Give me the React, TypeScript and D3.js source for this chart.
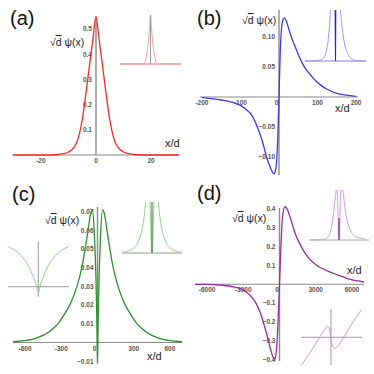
import React from "react";
import * as d3 from "d3";

// (a) bound state, symmetric peak
const aX = [-30, -20, -15, -12, -10, -8, -7, -6, -5, -4, -3, -2, -1, 0, 1, 2, 3, 4, 5, 6, 7, 8, 10, 12, 15, 20, 30];
const aY = [0, 0, 0.001, 0.005, 0.012, 0.03, 0.05, 0.085, 0.14, 0.215, 0.3, 0.385, 0.47, 0.55, 0.47, 0.385, 0.3, 0.215, 0.14, 0.085, 0.05, 0.03, 0.012, 0.005, 0.001, 0, 0];

// (b) odd state
const bX = [-200, -170, -150, -120, -100, -85, -70, -55, -45, -38, -31, -24, -18, -13, -10, -6, -3, 0, 3, 6, 10, 14, 20, 26, 32, 40, 50, 65, 80, 95, 110, 125, 150, 175, 200];
const bY = [-0.001, -0.003, -0.005, -0.009, -0.014, -0.021, -0.031, -0.052, -0.07, -0.086, -0.103, -0.115, -0.124, -0.128, -0.125, -0.105, -0.065, 0, 0.07, 0.11, 0.128, 0.132, 0.125, 0.112, 0.1, 0.087, 0.071, 0.051, 0.038, 0.027, 0.019, 0.013, 0.006, 0.003, 0.001];

// (c) double peak with dip at origin
const cX = [-700, -600, -500, -400, -330, -280, -230, -170, -130, -100, -76, -60, -42, -24, -13, -7, -3, 0, 3, 7, 13, 24, 42, 60, 76, 100, 130, 170, 230, 280, 330, 400, 500, 600, 700];
const cY = [0.0004, 0.001, 0.0025, 0.0058, 0.0098, 0.0145, 0.02, 0.03, 0.04, 0.051, 0.061, 0.068, 0.071, 0.055, 0.035, 0.0175, 0.003, -0.0105, 0.003, 0.0175, 0.035, 0.055, 0.071, 0.068, 0.061, 0.051, 0.04, 0.03, 0.02, 0.0145, 0.0098, 0.0058, 0.0025, 0.001, 0.0004];

// (d) odd state, wide
const dX = [-7000, -6000, -5000, -4000, -3000, -2500, -2000, -1600, -1300, -1100, -900, -700, -550, -400, -250, -120, 0, 120, 250, 460, 700, 1000, 1300, 1800, 2400, 3100, 4000, 4800, 5800, 7000];
const dY = [-0.0005, -0.001, -0.004, -0.012, -0.03, -0.055, -0.095, -0.15, -0.21, -0.255, -0.305, -0.355, -0.385, -0.4, -0.35, -0.2, 0, 0.2, 0.36, 0.412, 0.39, 0.33, 0.27, 0.2, 0.14, 0.1, 0.07, 0.05, 0.027, 0.012];

// (d) zoom of the kink near the origin (arbitrary units)
const dzX = [-0.98, -0.64, -0.37, -0.2, -0.11, -0.06, -0.02, 0.02, 0.11, 0.22, 0.47, 0.74, 1.02];
const dzY = [-0.92, -0.42, 0.02, 0.27, 0.38, 0.3, 0.08, -0.18, -0.37, -0.31, 0.08, 0.52, 0.93];

const aXTicks = [-20, 0, 20];
const aYTicks = [0.1, 0.2, 0.3, 0.4, 0.5];
const bXTicks = [-200, -100, 0, 100, 200];
const bYTicks = [-0.1, -0.05, 0.05, 0.1];
const cXTicks = [-600, -300, 0, 300, 600];
const cYTicks = [-0.01, 0.01, 0.02, 0.03, 0.04, 0.05, 0.06, 0.07];
const dXTicks = [-6000, -3000, 0, 3000, 6000];
const dYTicks = [-0.4, -0.3, -0.2, -0.1, 0.1, 0.2, 0.3, 0.4];

const FONT = "'Liberation Sans', Arial, sans-serif";

type Inset = {
  x0: number; x1: number; base: number; top: number; centerTop: number;
  dom: [number, number]; gain: number;
  curve: string; center: string; baseColor: string;
};

type PanelProps = {
  id: string;
  letter: string;
  letterPos: [number, number];
  xs: number[];
  ys: number[];
  color: string;
  xDomain: [number, number];
  xRange: [number, number];
  yDomain: [number, number];
  yRange: [number, number];
  yAxisTop: number;
  yAxisBottom: number;
  xTicks: number[];
  yTicks: number[];
  zeroShift: number;
  yFmt: (v: number) => string;
  yLabelPos: [number, number];
  xLabelPos: [number, number];
  inset: Inset;
};

function Panel(p: PanelProps) {
  const x = d3.scaleLinear().domain(p.xDomain).range(p.xRange);
  const y = d3.scaleLinear().domain(p.yDomain).range(p.yRange);
  const pts = p.xs.map((v, i) => [v, p.ys[i]] as [number, number]);
  const line = d3.line<[number, number]>().x((d) => x(d[0])).y((d) => y(d[1])).curve(d3.curveMonotoneX);

  // inset: probability density, scaled up and clipped at the top
  const ins = p.inset;
  const ix = d3.scaleLinear().domain(ins.dom).range([ins.x0, ins.x1]);
  const maxSq = d3.max(p.ys, (v) => v * v) as number;
  const iy = d3.scaleLinear().domain([0, maxSq / ins.gain]).range([ins.base, ins.top]);
  const iline = d3.line<[number, number]>().x((d) => ix(d[0])).y((d) => iy(d[1] * d[1])).curve(d3.curveMonotoneX);
  const inPts = pts.filter((d) => d[0] >= ins.dom[0] && d[0] <= ins.dom[1]);

  const x0 = x(0);
  const y0 = y(0);
  return (
    <g>
      <defs>
        <clipPath id={"clip" + p.id}>
          <rect x={ins.x0 - 2} y={ins.top} width={ins.x1 - ins.x0 + 4} height={ins.base - ins.top + 2} />
        </clipPath>
      </defs>
      <text x={p.letterPos[0]} y={p.letterPos[1]} fontSize={20} fontFamily={FONT} fill="#111">
        {p.letter}
      </text>
      {/* inset */}
      <line x1={ins.x0} x2={ins.x1} y1={ins.base} y2={ins.base} stroke={ins.baseColor} strokeWidth={1} />
      <path d={iline(inPts) || ""} fill="none" stroke={ins.curve} strokeWidth={1} clipPath={`url(#clip${p.id})`} />
      <line x1={ix(0)} x2={ix(0)} y1={ins.centerTop} y2={ins.base} stroke={ins.center} strokeWidth={1} />
      {/* axes */}
      <line x1={p.xRange[0]} x2={p.xRange[1]} y1={y0} y2={y0} stroke="#8a8a8a" strokeWidth={1.2} />
      <line x1={x0} x2={x0} y1={p.yAxisTop} y2={p.yAxisBottom} stroke="#8a8a8a" strokeWidth={1.4} />
      {p.xTicks.map((t) => (
        <text key={"x" + t} x={x(t) + (t === 0 ? p.zeroShift : 0)} y={y0 + 8} fontSize={6.5} fontWeight="bold" fontFamily={FONT} fill="#555" textAnchor="middle">
          {t}
        </text>
      ))}
      {p.yTicks.map((t) => (
        <text key={"y" + t} x={x0 - 4} y={y(t) + 2.3} fontSize={6.5} fontWeight="bold" fontFamily={FONT} fill="#555" textAnchor="end">
          {p.yFmt(t)}
        </text>
      ))}
      <path d={line(pts) || ""} fill="none" stroke={p.color} strokeWidth={1.3} />
      <text x={p.yLabelPos[0]} y={p.yLabelPos[1]} fontSize={10.5} fontFamily={FONT} fill="#222">
        √<tspan style={{ textDecoration: "overline" }}>d</tspan> ψ(x)
      </text>
      <text x={p.xLabelPos[0]} y={p.xLabelPos[1]} fontSize={11} fontFamily={FONT} fill="#222">
        x/d
      </text>
    </g>
  );
}

export default function App() {
  // zoom inset of (c): central dip
  const vx = d3.scaleLinear().domain([-42, 42]).range([8.3, 68.3]);
  const vy = d3.scaleLinear().domain([0, 0.071]).range([286.7, 246.7]);
  const vPts = cX.map((v, i) => [v, cY[i]] as [number, number]).filter((d) => d[0] >= -42 && d[0] <= 42);
  const vLine = d3.line<[number, number]>().x((d) => vx(d[0])).y((d) => vy(d[1])).curve(d3.curveMonotoneX);

  // zoom inset of (d): kink
  const zx = d3.scaleLinear().domain([-1, 1]).range([301, 361]);
  const zy = d3.scaleLinear().domain([-1, 1]).range([367.3, 307.3]);
  const zPts = dzX.map((v, i) => [v, dzY[i]] as [number, number]);
  const zLine = d3.line<[number, number]>().x((d) => zx(d[0])).y((d) => zy(d[1])).curve(d3.curveCatmullRom);

  return (
    <svg width={374} height={374} style={{ position: "absolute", left: 0, top: 0, background: "#fff" }}>
      <Panel
        id="a" letter="(a)" letterPos={[10, 24.5]} xs={aX} ys={aY} color="#f52a2a"
        xDomain={[-30.5, 30.5]} xRange={[12, 180]} yDomain={[0, 0.5]} yRange={[155, 29]}
        yAxisTop={17} yAxisBottom={155} xTicks={aXTicks} yTicks={aYTicks} zeroShift={0} yFmt={(v) => d3.format(".1f")(v)}
        yLabelPos={[50, 46]} xLabelPos={[165, 147]}
        inset={{ x0: 120, x1: 181, base: 64, top: 15, centerTop: 15, dom: [-30, 30], gain: 1, curve: "#f5a3a3", center: "#999", baseColor: "#d27070" }}
      />
      <Panel
        id="b" letter="(b)" letterPos={[197, 24.5]} xs={bX} ys={bY} color="#3a3af0"
        xDomain={[-205, 205]} xRange={[200, 358]} yDomain={[-0.1, 0.1]} yRange={[157, 37]}
        yAxisTop={10} yAxisBottom={175} xTicks={bXTicks} yTicks={bYTicks} zeroShift={-2.5} yFmt={(v) => d3.format(".2f")(v)}
        yLabelPos={[242, 24]} xLabelPos={[335, 112]}
        inset={{ x0: 305, x1: 366, base: 61, top: 10, centerTop: 10, dom: [-200, 200], gain: 1.75, curve: "#9a9af5", center: "#2a2aa8", baseColor: "#8080e0" }}
      />
      <Panel
        id="c" letter="(c)" letterPos={[12, 201]} xs={cX} ys={cY} color="#2f8f2f"
        xDomain={[-700, 700]} xRange={[13, 182]} yDomain={[-0.01, 0.07]} yRange={[361.2, 211.6]}
        yAxisTop={207} yAxisBottom={364} xTicks={cXTicks} yTicks={cYTicks} zeroShift={-3} yFmt={(v) => d3.format(".2f")(v)}
        yLabelPos={[45, 224]} xLabelPos={[147, 360]}
        inset={{ x0: 122, x1: 182, base: 253, top: 202, centerTop: 202, dom: [-400, 400], gain: 1.5, curve: "#92cf92", center: "#2a6e2a", baseColor: "#999" }}
      />
      <Panel
        id="d" letter="(d)" letterPos={[197, 200]} xs={dX} ys={dY} color="#962d9c"
        xDomain={[-7000, 7000]} xRange={[195, 364]} yDomain={[-0.4, 0.4]} yRange={[359.5, 209]}
        yAxisTop={208} yAxisBottom={361} xTicks={dXTicks} yTicks={dYTicks} zeroShift={-2.5} yFmt={(v) => d3.format(".1f")(v)}
        yLabelPos={[232, 222]} xLabelPos={[347, 274]}
        inset={{ x0: 309, x1: 369, base: 240, top: 190, centerTop: 218, dom: [-5400, 5400], gain: 1.1, curve: "#d699dc", center: "#5a1a60", baseColor: "#aaa" }}
      />
      {/* (c) left zoom inset */}
      <line x1={8} x2={69} y1={vy(0)} y2={vy(0)} stroke="#999" strokeWidth={1} />
      <line x1={vx(0)} x2={vx(0)} y1={241.7} y2={296.7} stroke="#999" strokeWidth={1} />
      <path d={vLine(vPts) || ""} fill="none" stroke="#8fd08f" strokeWidth={1} />
      {/* (d) bottom zoom inset */}
      <line x1={301} x2={362} y1={zy(0)} y2={zy(0)} stroke="#999" strokeWidth={1} />
      <line x1={zx(0)} x2={zx(0)} y1={309} y2={365} stroke="#999" strokeWidth={1} />
      <path d={zLine(zPts) || ""} fill="none" stroke="#d291d8" strokeWidth={1} />
    </svg>
  );
}
